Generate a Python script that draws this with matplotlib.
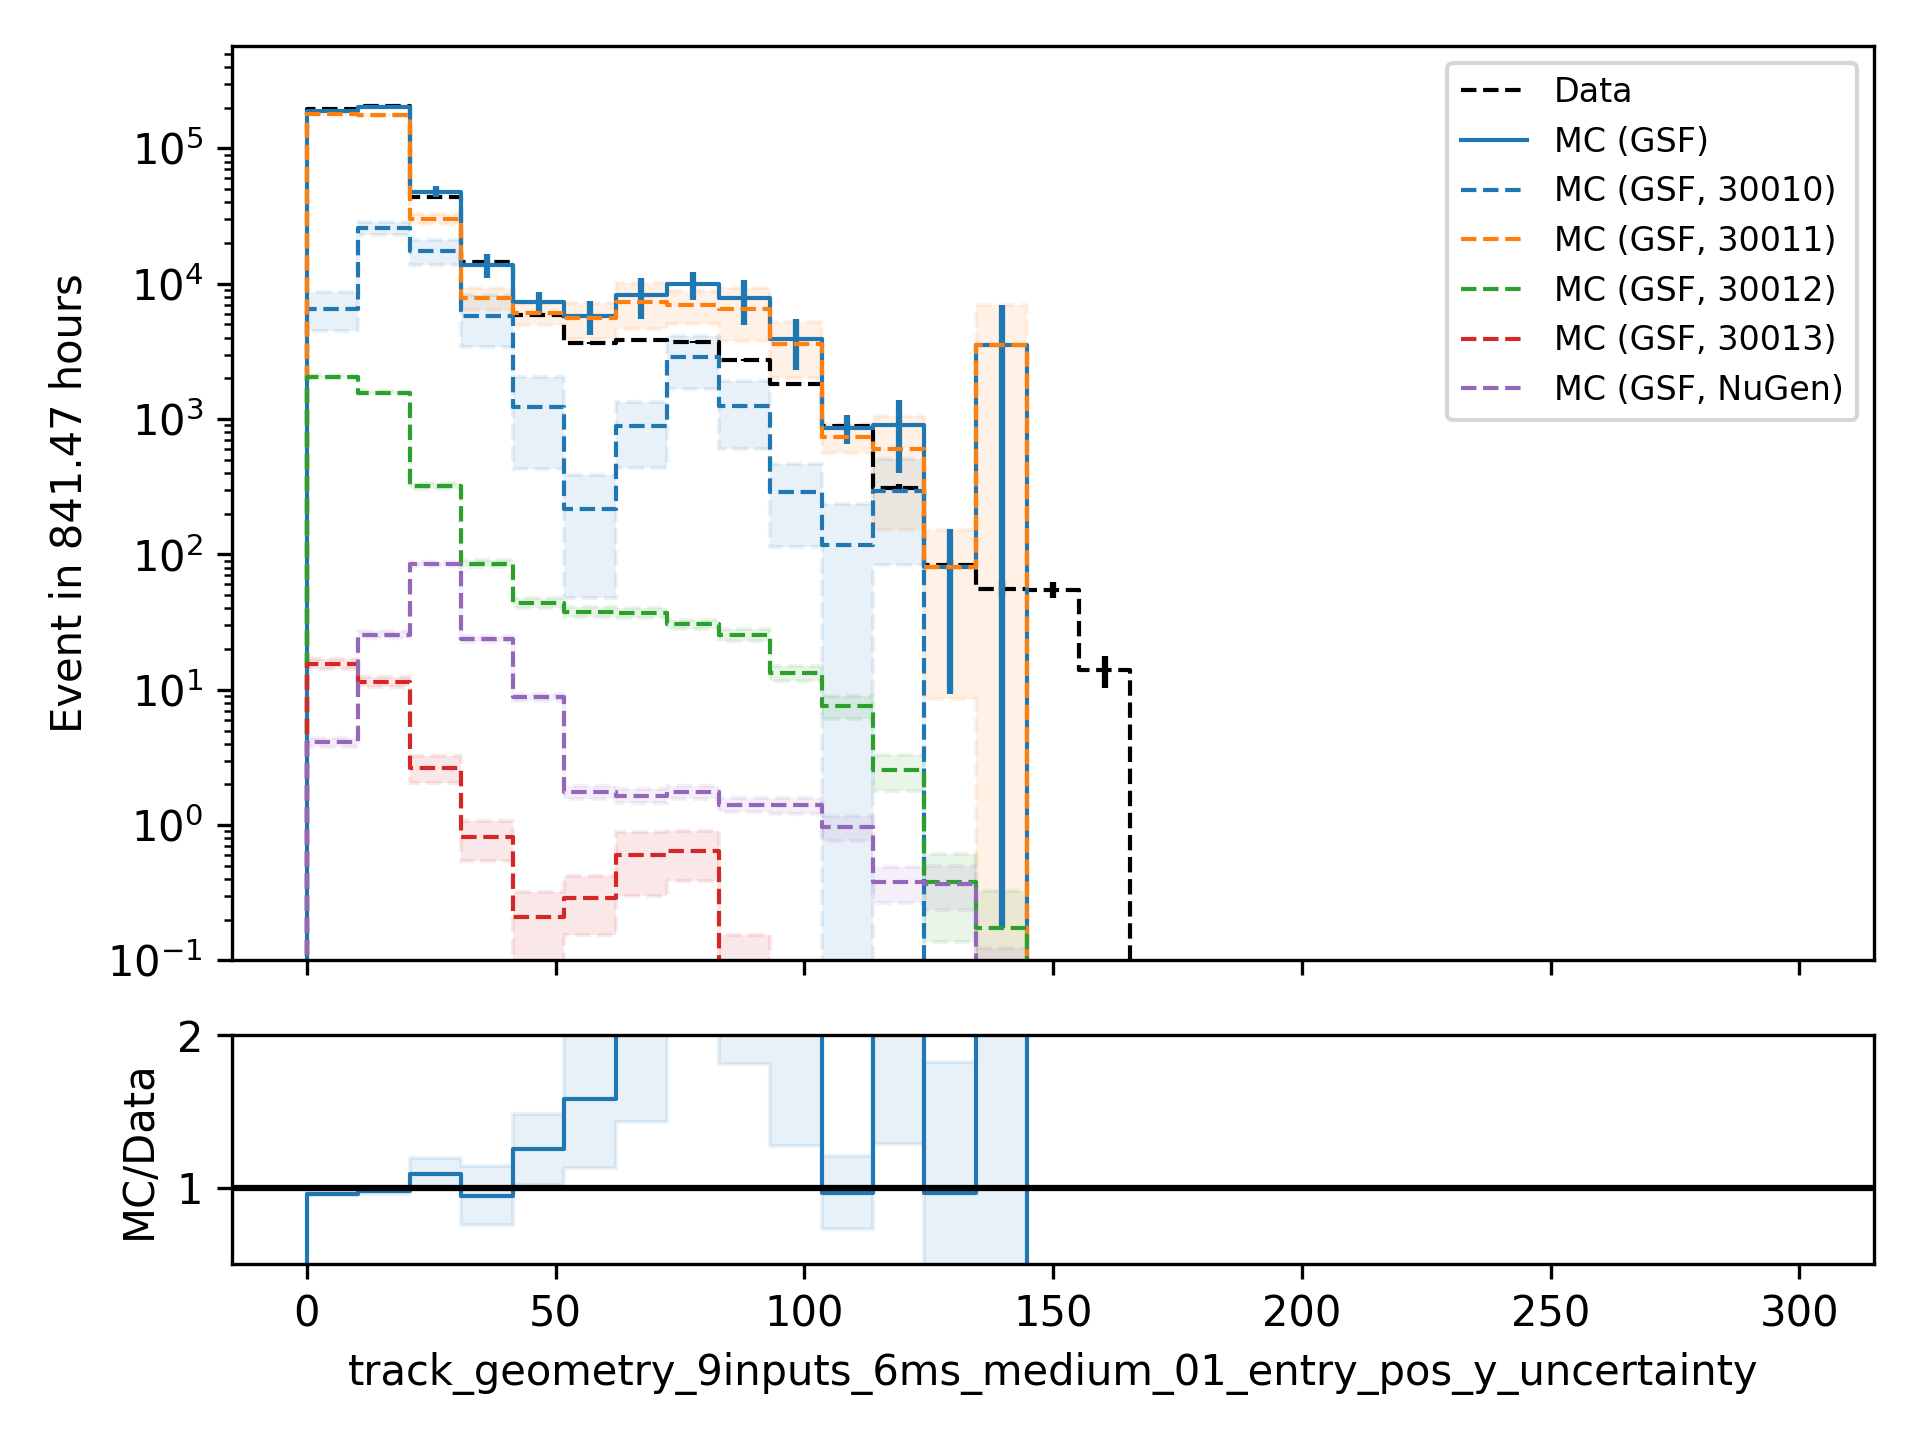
import numpy as np
import matplotlib
matplotlib.use("Agg")
import matplotlib.pyplot as plt

# binning: 29 bins between 0 and 300
edges = np.linspace(0, 300, 30)
n_bins = len(edges) - 1

# values (non-empty bins only, rest are zero)
data = [1.96e5, 2.07e5, 4.38e4, 1.45e4, 5.86e3, 3.66e3, 3.83e3, 3.72e3,
        2.74e3, 1.81e3, 890, 311, 84, 56, 55, 14]

mc_30010 = [6.56e3, 2.58e4, 1.75e4, 5.79e3, 1.23e3, 218, 889, 2.88e3,
            1.25e3, 289, 117, 294]
err_30010 = [2.1e3, 2.8e3, 3.7e3, 2.4e3, 800, 170, 455, 1.2e3,
             650, 175, 117, 210]

mc_30011 = [1.8e5, 1.75e5, 3.0e4, 7.87e3, 6.07e3, 5.54e3, 7.35e3, 6.98e3,
            6.56e3, 3.61e3, 738, 601, 80.5, 3.5e3]
err_30011 = [800, 1e3, 2.6e3, 1.5e3, 1.1e3, 1.64e3, 2.75e3, 1.9e3,
             2.8e3, 1.6e3, 175, 450, 72, 3.5e3]

mc_30012 = [2.06e3, 1.57e3, 320, 85.7, 44, 37.7, 37.1, 30.4,
            25.6, 13.3, 7.55, 2.54, 0.377, 0.175]
err_30012 = [60, 50, 15, 5, 3.5, 3, 3, 2.5,
             2.5, 1.7, 1.5, 0.75, 0.24, 0.15]

mc_30013 = [15.6, 11.4, 2.64, 0.811, 0.211, 0.289, 0.597, 0.647, 0.0]
err_30013 = [1.3, 1.0, 0.58, 0.27, 0.112, 0.134, 0.3, 0.26, 0.155]

mc_nugen = [4.09, 25.6, 84.7, 23.6, 8.8, 1.75, 1.65, 1.75,
            1.42, 1.40, 0.968, 0.377, 0.368, 0.0]
err_nugen = [0.3, 1.5, 3, 1.2, 0.5, 0.2, 0.2, 0.2,
             0.17, 0.2, 0.2, 0.11, 0.13, 0.124]

livetime = "841.47"
xlabel = "track_geometry_9inputs_6ms_medium_01_entry_pos_y_uncertainty"


def pad(v):
    v = np.asarray(v, dtype=float)
    return np.pad(v, (0, n_bins - len(v)))


data = pad(data)
components = [
    ("MC (GSF, 30010)", "C0", pad(mc_30010), pad(err_30010)),
    ("MC (GSF, 30011)", "C1", pad(mc_30011), pad(err_30011)),
    ("MC (GSF, 30012)", "C2", pad(mc_30012), pad(err_30012)),
    ("MC (GSF, 30013)", "C3", pad(mc_30013), pad(err_30013)),
    ("MC (GSF, NuGen)", "C4", pad(mc_nugen), pad(err_nugen)),
]
mc_total = sum(c[2] for c in components)
mc_err = np.sqrt(sum(c[3] ** 2 for c in components))
data_err = np.sqrt(data)
centers = 0.5 * (edges[1:] + edges[:-1])


def draw_hist(a, vals, **kw):
    x = np.repeat(edges, 2)
    y = np.concatenate([[0], np.repeat(vals, 2), [0]])
    a.plot(x, y, **kw)


def draw_band(a, lo, hi, color, ls):
    a.fill_between(edges, np.append(lo, lo[-1]), np.append(hi, hi[-1]),
                   step="post", color=color, alpha=0.1, ls=ls)


fig = plt.figure(figsize=(6.4, 4.8), dpi=300)
ax = fig.add_axes([0.121, 0.333, 0.855, 0.635])
rax = fig.add_axes([0.121, 0.122, 0.855, 0.159], sharex=ax)

ax.set_yscale("log")

# data
draw_hist(ax, data, color="k", ls="--", lw=1, label="Data")
m = data > 0
ax.errorbar(centers[m], data[m], yerr=data_err[m], fmt="none", ecolor="k", elinewidth=1.5)

# total MC
draw_hist(ax, mc_total, color="C0", ls="-", lw=1, label="MC (GSF)")
m = mc_total > 0
ax.errorbar(centers[m], mc_total[m], yerr=mc_err[m], fmt="none", ecolor="C0", elinewidth=1.5)

# components
for label, color, vals, errs in components:
    lo = np.clip(vals - errs, 1e-3, None)
    hi = np.clip(vals + errs, 1e-3, None)
    draw_band(ax, lo, hi, color, "--")
    draw_hist(ax, vals, color=color, ls="--", lw=1, label=label)

ax.set_ylim(0.1, 5.7e5)
ax.set_xlim(-15, 315)
ax.set_ylabel(f"Event in {livetime} hours")
ax.tick_params(labelbottom=False)
ax.legend(loc="upper right", fontsize=8)

# ratio panel
with np.errstate(divide="ignore", invalid="ignore"):
    ratio = np.where(data > 0, mc_total / data, np.nan)
    ratio_err = np.where(data > 0, mc_err / data, np.nan)
draw_band(rax, ratio - ratio_err, ratio + ratio_err, "C0", "-")
draw_hist(rax, ratio, color="C0", ls="-", lw=1)
rax.axhline(1, color="k", lw=1.5)
rax.set_ylim(0.5, 2)
rax.set_yticks([1, 2])
rax.set_ylabel("MC/Data")
rax.set_xlabel(xlabel)
rax.set_xticks(np.arange(0, 301, 50))

fig.savefig("out.png", dpi=300)
